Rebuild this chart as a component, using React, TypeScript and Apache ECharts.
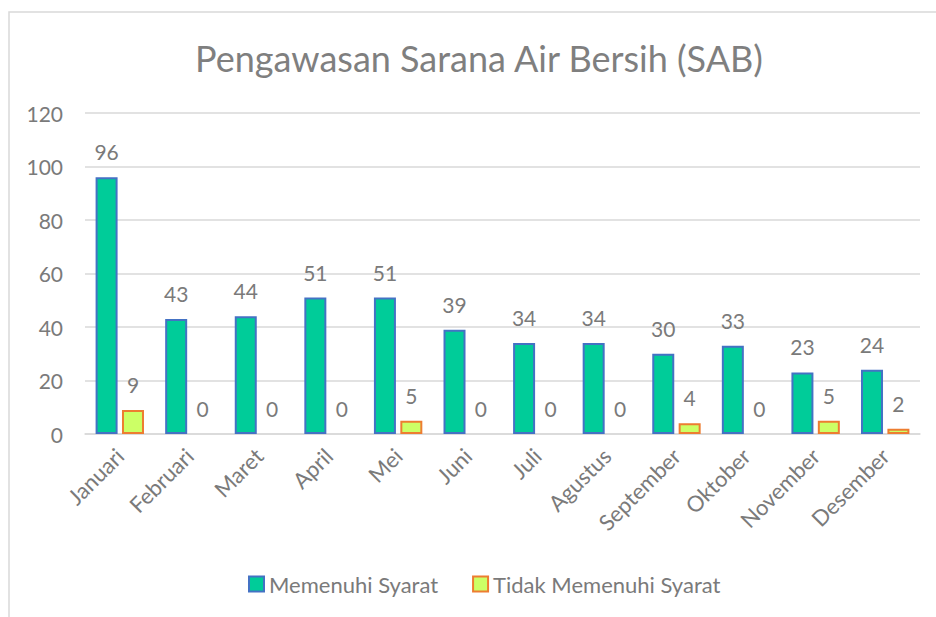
import React, { useEffect, useRef } from "react";
import * as echarts from "echarts";

const categories = ["Januari", "Februari", "Maret", "April", "Mei", "Juni", "Juli", "Agustus", "September", "Oktober", "November", "Desember"];
const memenuhi = [96, 43, 44, 51, 51, 39, 34, 34, 30, 33, 23, 24];
const tidakMemenuhi = [9, 0, 0, 0, 5, 0, 0, 0, 4, 0, 5, 2];
const yTicks = [0, 20, 40, 60, 80, 100, 120];
const titleText = "Pengawasan Sarana Air Bersih (SAB)";

const FONT = "Lato, 'Open Sans', sans-serif";
const TXT = "#7a7a7a";

export default function App() {
  const ref = useRef<HTMLDivElement>(null);
  useEffect(() => {
    if (!ref.current) return;
    const chart = echarts.init(ref.current, undefined, { renderer: "svg" });
    const withBorder = (vals: number[]) =>
      vals.map((v) => (v === 0 ? { value: v, itemStyle: { borderWidth: 0 } } : v));
    chart.setOption({
      animation: false,
      backgroundColor: "#ffffff",
      textStyle: { fontFamily: FONT },
      graphic: [
        {
          type: "rect",
          shape: { x: 9, y: 12, width: 940, height: 620 },
          style: { fill: "none", stroke: "#d9d9d9", lineWidth: 1.5 },
          silent: true,
        },
        {
          type: "text",
          x: 479,
          y: 58,
          style: {
            text: titleText,
            textAlign: "center",
            textVerticalAlign: "middle",
            fontFamily: FONT,
            fontSize: 36,
            fill: "#7f7f7f",
          },
          silent: true,
        },
      ],
      legend: {
        bottom: 17,
        left: 243,
        itemWidth: 15,
        itemHeight: 15,
        itemGap: 34,
        icon: "rect",
        textStyle: { fontFamily: FONT, fontSize: 22, color: TXT },
        data: ["Memenuhi Syarat", "Tidak Memenuhi Syarat"],
      },
      grid: { left: 85, right: 16, top: 113, bottom: 183, containLabel: false },
      xAxis: {
        type: "category",
        data: categories,
        axisTick: { show: false },
        axisLine: { lineStyle: { color: "#d9d9d9", width: 1.5 } },
        axisLabel: { rotate: 45, margin: 18, fontSize: 22, color: TXT, fontFamily: FONT },
      },
      yAxis: {
        type: "value",
        min: yTicks[0],
        max: yTicks[yTicks.length - 1],
        interval: 20,
        axisLine: { show: false },
        axisTick: { show: false },
        splitLine: { lineStyle: { color: "#d9d9d9", width: 1.5 } },
        axisLabel: { margin: 22, fontSize: 21, color: TXT, fontFamily: FONT },
      },
      series: [
        {
          name: "Memenuhi Syarat",
          type: "bar",
          data: withBorder(memenuhi),
          barWidth: 22,
          barGap: "20%",
          itemStyle: { color: "#00cc99", borderColor: "#4472c4", borderWidth: 2 },
          label: { show: true, position: "top", distance: 15, fontSize: 21, color: TXT, fontFamily: FONT },
        },
        {
          name: "Tidak Memenuhi Syarat",
          type: "bar",
          data: withBorder(tidakMemenuhi),
          barWidth: 22,
          itemStyle: { color: "#ccff66", borderColor: "#ed7d31", borderWidth: 2 },
          label: { show: true, position: "top", distance: 15, fontSize: 21, color: TXT, fontFamily: FONT },
        },
      ],
    });
    return () => chart.dispose();
  }, []);
  return (
    <div
      ref={ref}
      style={{ position: "absolute", left: 0, top: 0, width: 936, height: 617 }}
    />
  );
}
